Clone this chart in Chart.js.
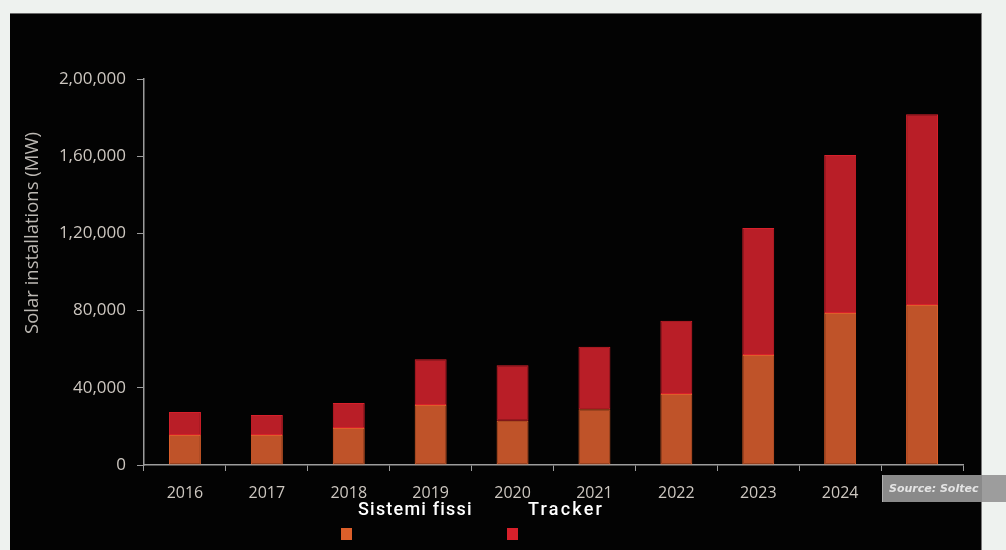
<!DOCTYPE html>
<html>
<head>
<meta charset="utf-8">
<script src="https://cdn.jsdelivr.net/npm/chart.js@4"></script>
<style>
  html, body { margin: 0; padding: 0; }
  body { width: 1006px; height: 550px; background: #eef2ef; position: relative; overflow: hidden; }
  #panel { position: absolute; left: 10px; top: 13px; width: 971px; height: 537px; background: #030303; border-top: 1px solid #6a6a6a; border-right: 1px solid #7a7a7a; }
  #wrap { position: absolute; left: 0; top: 0; width: 1006px; height: 550px; }
</style>
</head>
<body>
<div id="panel"></div>
<div id="wrap"><canvas id="mainChart"></canvas></div>
<script>
// Installed capacity per year, MW
const years = ['2016', '2017', '2018', '2019', '2020', '2021', '2022', '2023', '2024', '2025'];
const fixedMW = [15500, 15500, 19200, 31100, 22950, 28850, 36800, 57000, 78750, 82900];
const trackerMW = [12000, 10400, 12900, 23700, 28700, 32450, 37950, 65800, 81850, 98800];
const seriesNames = ['Sistemi fissi', 'Tracker'];
const yTickLabels = ['0', '40,000', '80,000', '1,20,000', '1,60,000', '2,00,000'];
const yTitle = 'Solar installations (MW)';
const sourceText = 'Source: Soltec';

const axisColor = '#9c9c9c';
const tickColor = '#cdc7c0';

// y title, legend under the axis and the source tag
const extras = {
    id: 'extras',
    afterDraw(chart) {
        const ctx = chart.ctx;
        ctx.save();

        ctx.translate(33, 233);
        ctx.rotate(-Math.PI / 2);
        ctx.font = '18.5px "Open Sans"';
        ctx.fillStyle = '#bdb9b4';
        ctx.textAlign = 'center';
        ctx.textBaseline = 'middle';
        ctx.fillText(yTitle, 0, 0);
        ctx.setTransform(1, 0, 0, 1, 0, 0);

        const legendPos = [{ tx: 358, bx: 341 }, { tx: 528, bx: 507 }];
        chart.data.datasets.forEach((ds, i) => {
            const p = legendPos[i];
            ctx.font = '500 18px Roboto';
            ctx.letterSpacing = i === 0 ? '1.2px' : '2.2px';
            ctx.fillStyle = '#ffffff';
            ctx.textAlign = 'left';
            ctx.textBaseline = 'middle';
            ctx.fillText(ds.label, p.tx, 510);
            ctx.fillStyle = ds.borderColor;
            ctx.fillRect(p.bx, 528, 11, 12);
        });
        ctx.letterSpacing = '0px';

        ctx.fillStyle = '#8a8a8a';
        ctx.fillRect(882, 475, 100, 27);
        ctx.fillStyle = '#9d9d9d';
        ctx.fillRect(982, 475, 24, 27);
        ctx.strokeStyle = '#b0b0b0';
        ctx.lineWidth = 1;
        ctx.beginPath();
        ctx.moveTo(882.5, 475);
        ctx.lineTo(882.5, 502);
        ctx.stroke();
        ctx.beginPath();
        ctx.rect(882, 475, 99, 27);
        ctx.clip();
        ctx.font = 'italic bold 11px "DejaVu Sans"';
        ctx.fillStyle = '#e4e4e4';
        ctx.textBaseline = 'middle';
        ctx.fillText(sourceText, 889, 489);
        ctx.restore();
    }
};

const ctx = document.getElementById('mainChart').getContext('2d');
new Chart(ctx, {
    type: 'bar',
    data: {
        labels: years,
        datasets: [
            {
                label: seriesNames[0],
                data: fixedMW,
                backgroundColor: '#bf5329',
                borderColor: '#dc5f2a',
                borderWidth: 1,
                borderSkipped: false,
                barPercentage: 0.39,
                categoryPercentage: 1
            },
            {
                label: seriesNames[1],
                data: trackerMW,
                backgroundColor: '#b91e27',
                borderColor: '#d8202b',
                borderWidth: 1,
                borderSkipped: false,
                barPercentage: 0.39,
                categoryPercentage: 1
            }
        ]
    },
    options: {
        responsive: true,
        maintainAspectRatio: false,
        animation: false,
        layout: { padding: { top: 79, right: 43, left: 0, bottom: 0 } },
        plugins: {
            legend: { display: false },
            tooltip: { enabled: false }
        },
        scales: {
            x: {
                stacked: true,
                afterFit: (scale) => { scale.height = 85; },
                grid: {
                    display: true,
                    offset: true,
                    drawOnChartArea: false,
                    drawTicks: true,
                    tickLength: 6,
                    color: axisColor
                },
                border: { display: true, color: axisColor, width: 1.5 },
                ticks: {
                    color: tickColor,
                    font: { family: 'Open Sans', size: 16 },
                    padding: 13,
                    maxRotation: 0
                }
            },
            y: {
                stacked: true,
                min: 0,
                max: 200000,
                afterFit: (scale) => { scale.width = 144; },
                afterBuildTicks: (scale) => {
                    scale.ticks = yTickLabels.map((t, i) => ({ value: i * 40000 }));
                },
                grid: {
                    display: true,
                    drawOnChartArea: false,
                    drawTicks: true,
                    tickLength: 7,
                    color: axisColor
                },
                border: { display: true, color: axisColor, width: 1.5 },
                ticks: {
                    color: tickColor,
                    font: { family: 'Open Sans', size: 17 },
                    padding: 11,
                    callback: (v, i) => yTickLabels[i]
                }
            }
        }
    },
    plugins: [extras]
});
</script>
</body>
</html>
